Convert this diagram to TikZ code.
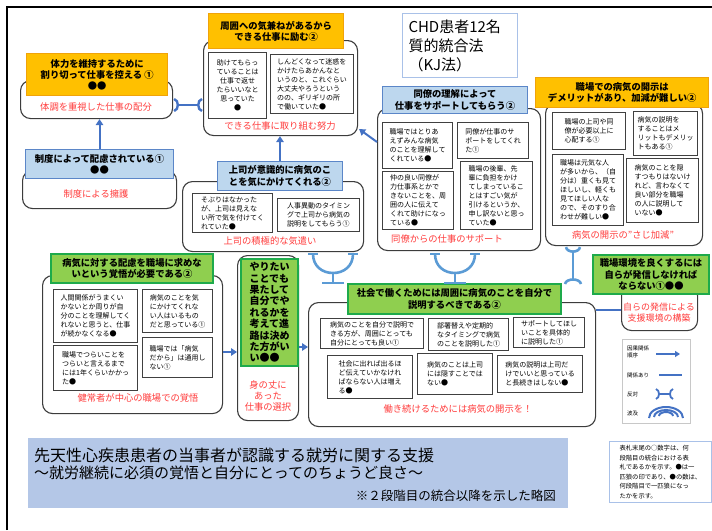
\documentclass[tikz,border=0pt]{standalone}
\usepackage{fontspec}
\setmainfont{Noto Sans CJK JP}
\usetikzlibrary{arrows.meta,calc}

\definecolor{orgF}{HTML}{FFC000}
\definecolor{orgB}{HTML}{F0A30A}
\definecolor{bluF}{HTML}{BDD7EE}
\definecolor{bluB}{HTML}{5B86C8}
\definecolor{grnF}{HTML}{8FCF4F}
\definecolor{grnB}{HTML}{1EAA4B}
\definecolor{grpc}{HTML}{3C3C3C}
\definecolor{cardc}{HTML}{404040}
\definecolor{redc}{HTML}{FF3C3C}
\definecolor{arrc}{HTML}{4472C4}
\definecolor{oppc}{HTML}{5B9BD5}
\definecolor{banF}{HTML}{B4C7E7}
\definecolor{ttlB}{HTML}{A9C1E8}
\definecolor{legB}{HTML}{C8C8C8}

\newcommand\hfnt{\fontsize{9.3}{11.3}\selectfont\bfseries}
\newcommand\cfnt{\fontsize{7}{9}\selectfont}
\newcommand\rfnt{\fontsize{9.3}{11}\selectfont}
\newcommand\mkbox[7]{\node[#1,anchor=north west,minimum width=#5pt,minimum height=#6pt] (#2) at (#3,#4) {#7};}

\tikzset{
  grp/.style={draw=grpc, line width=1.1pt, rounded corners=10pt, fill=white, inner sep=0pt},
  hdrO/.style={draw=orgB, fill=orgF, line width=1.4pt, font=\hfnt, align=center, inner sep=1pt},
  hdrB/.style={draw=bluB, fill=bluF, line width=1pt, font=\hfnt, align=center, inner sep=1pt},
  hdrG/.style={draw=grnB, fill=grnF, line width=2pt, font=\hfnt, align=center, inner sep=1pt},
  card/.style={draw=cardc, line width=1.2pt, fill=white, font=\cfnt, align=left, inner xsep=2pt, inner ysep=1pt},
  redt/.style={text=redc, font=\rfnt, inner sep=0pt},
  arr/.style={draw=arrc, line width=2pt, -{Triangle[length=6pt,width=7.5pt]}},
  rel/.style={draw=arrc, line width=2.2pt},
  oppa/.style={draw=arrc, line width=2.4pt},
  oppb/.style={draw=oppc, line width=2.6pt},
  lgt/.style={font=\fontsize{5.5}{7.5}\selectfont, inner sep=0pt, align=left},
}

\begin{document}
\begin{tikzpicture}[x=1pt,y=-1pt]
\useasboundingbox (0,0) rectangle (712,530);
\draw[line width=2pt] (7,530) -- (7,7) -- (712,7);

% title
\node[draw=ttlB, line width=1pt, fill=white, anchor=north west, minimum width=115pt, minimum height=64pt,
      text width=103pt, inner xsep=6pt, align=left, font=\fontsize{15}{19}\selectfont] (ttl) at (402,13)
      {CHD患者12名\\質的統合法\\（KJ法）};

% groups
\mkbox{grp}{g1}{20}{80}{152}{38}{}
\mkbox{grp}{g2}{203}{40}{154}{95}{}
\mkbox{grp}{g4}{22}{170}{154}{38}{}
\mkbox{grp}{g5}{182}{181}{181}{70}{}
\mkbox{grp}{g6}{377}{108}{163}{142}{}
\mkbox{grp}{g7}{545}{103}{157}{142}{}
\mkbox{grp}{g8}{42}{275}{180}{138}{}
\mkbox{grp}{g9}{237}{255}{61}{165}{}
\mkbox{grp}{g10}{308}{302}{287}{124}{}
\mkbox{grp}{g11}{621}{285}{76}{45}{}

% headers
\mkbox{hdrO}{h1}{26}{53}{141}{42}{体力を維持するために\\割り切って仕事を控える ①\\●●}
\mkbox{hdrO}{h2}{208}{13}{135}{35}{周囲への気兼ねがあるから\\できる仕事に励む②}
\mkbox{hdrB}{h4}{25}{149}{148}{29}{制度によって配慮されている①\\●●}
\mkbox{hdrB}{h5}{217}{161}{125}{29}{上司が意識的に病気のこ\\とを気にかけてくれる②}
\mkbox{hdrB}{h6}{382}{86}{145}{27}{同僚の理解によって\\仕事をサポートしてもらう②}
\mkbox{hdrO}{h7}{535}{77}{173}{30}{職場での病気の開示は\\デメリットがあり、加減が難しい②}
\mkbox{hdrG}{h8}{50}{253}{162}{29}{病気に対する配慮を職場に求めな\\いという覚悟が必要である②}
\mkbox{hdrG,font=\fontsize{10}{11.4}\selectfont\bfseries,align=left}{h9}{240}{258}{57}{107}{やりたい\\ことでも\\果たして\\自分でや\\れるかを\\考えて進\\路は決め\\た方がい\\い●●}
\mkbox{hdrG}{h10}{347}{283}{213}{30}{社会で働くためには周囲に病気のことを自分で\\説明するべきである②}
\mkbox{hdrG}{h11}{592}{254}{116}{39}{職場環境を良くするには\\自らが発信しなければ\\ならない①●●}

% cards
\mkbox{card,align=center}{cA}{208}{52}{58}{66}{助けてもらっ\\ていることは\\仕事で返せ\\たらいいなと\\思っていた\\●}
\mkbox{card}{cB}{270}{54}{83}{59}{しんどくなって迷惑を\\かけたらあかんなと\\いうのと、これぐらい\\大丈夫やろうという\\のの、ギリギリの所\\で働いていた●}
\mkbox{card}{cC}{192}{193}{80}{39}{そぶりはなかった\\が、上司は見えな\\い所で気を付けてく\\れていた●}
\mkbox{card}{cD}{277}{198}{82}{33}{人事異動のタイミン\\グで上司から病気の\\説明をしてもらう①}
\mkbox{card}{cE}{382}{122}{70}{46}{職場ではとりあ\\えずみんな病気\\のことを理解して\\くれている●}
\mkbox{card}{cF}{457}{122}{71}{36}{同僚が仕事のサ\\ポートをしてくれ\\た①}
\mkbox{card}{cG}{382}{171}{71}{58}{仲の良い同僚が\\力仕事系とかで\\きないことを、周\\囲の人に伝えて\\くれて助けになっ\\ている●}
\mkbox{card}{cH}{460}{161}{72}{68}{職場の後輩、先\\輩に負担をかけ\\てしまっているこ\\とはすごい気が\\引けるというか、\\申し訳ないと思っ\\ていた●}
\mkbox{card}{cI}{552}{112}{73}{37}{職場の上司や同\\僚が必要以上に\\心配する①}
\mkbox{card}{cJ}{633}{111}{64}{44}{病気の説明を\\することはメ\\リットもデメリッ\\トもある①}
\mkbox{card}{cK}{552}{154}{71}{71}{職場は元気な人\\が多いから、（自\\分は）重くも見て\\ほしいし、軽くも\\見てほしい人な\\ので、そのすり合\\わせが難しい●}
\mkbox{card}{cL}{626}{158}{72}{64}{病気のことを隠\\すつもりはないけ\\れど、言わなくて\\良い部分を職場\\の人に説明して\\いない●}
\mkbox{card}{cM}{53}{289}{84}{53}{人間関係がうまくい\\かないとか周りが自\\分のことを理解してく\\れないと思うと、仕事\\が続かなくなる●}
\mkbox{card}{cN}{142}{289}{70}{43}{病気のことを気\\にかけてくれな\\い人はいるもの\\だと思っている①}
\mkbox{card}{cO}{53}{345}{84}{45}{職場でつらいことを\\つらいと言えるまで\\には1年くらいかかっ\\た●}
\mkbox{card}{cP}{142}{337}{70}{40}{職場では「病気\\だから」は通用し\\ない①}
\mkbox{card}{cQ}{320}{318}{103}{30}{病気のことを自分で説明で\\きる方が、周囲にとっても\\自分にとっても良い①}
\mkbox{card}{cR}{428}{318}{80}{32}{部署替えや定期的\\なタイミングで病気\\のことを説明した①}
\mkbox{card}{cS}{513}{317}{71}{30}{サポートしてほし\\いことを具体的\\に説明した①}
\mkbox{card}{cT}{327}{355}{85}{43}{社会に出れば出るほ\\ど伝えていかなけれ\\ばならない人は増え\\る●}
\mkbox{card}{cU}{417}{353}{75}{41}{病気のことは上司\\には隠すことでは\\ない●}
\mkbox{card}{cV}{497}{355}{85}{37}{病気の説明は上司だ\\けでいいと思っている\\と長続きはしない●}

% red labels
\node[redt] (r1) at (96,107) {体調を重視した仕事の配分};
\node[redt] (r2) at (280,126) {できる仕事に取り組む努力};
\node[redt] (r4) at (96,194) {制度による擁護};
\node[redt] (r5) at (270,241) {上司の積極的な気遣い};
\node[redt] (r6) at (447,239) {同僚からの仕事のサポート};
\node[redt] (r7) at (623,235) {病気の開示の"さじ加減"};
\node[redt] (r8) at (138,398) {健常者が中心の職場での覚悟};
\node[redt,align=center] (r9) at (268,396) {身の丈に\\あった\\仕事の選択};
\node[redt] (r10) at (458,409) {働き続けるためには病気の開示を！};
\node[redt,align=center,font=\fontsize{9}{11}\selectfont] (r11) at (659,313) {自らの発信による\\支援環境の構築};

% arrows
\draw[arr] (h4.north) -- (h4.north |- g1.south);
\draw[arr] (h5.north) -- (h5.north |- g2.south);
\coordinate (a3s) at (g6.west |- 0,142);
\draw[arr] (a3s) -- ($(g2.south east)+(1,-7)$);
\draw[arr] (g8.east |- 0,352) -- (g9.west |- 0,352);
\draw[arr] (g9.east |- 0,347) -- (g10.west |- 0,347);
\draw[rel] (g10.east |- 0,310) -- (g11.west |- 0,310);

% opposition g1 - g2
\coordinate (o1a) at (g1.east |- 0,105);
\coordinate (o1b) at (g2.west |- 0,105);
\draw[oppa] ($(o1a)+(1,-6)$) .. controls +(5,1) and +(5,-1) .. ($(o1a)+(1,6)$);
\draw[oppa] ($(o1a)+(5,0)$) -- ($(o1b)+(-5,0)$);
\draw[oppa] ($(o1b)+(-1,-6)$) .. controls +(-5,1) and +(-5,-1) .. ($(o1b)+(-1,6)$);

% opposition g7 - below
\coordinate (o3a) at (g7.south -| 573,0);
\coordinate (o3b) at (573,284);
\draw[oppb] ($(o3a)+(-7,1)$) .. controls +(1,6) and +(-1,6) .. ($(o3a)+(7,1)$);
\draw[oppb] ($(o3a)+(0,5)$) -- ($(o3b)+(0,-5)$);
\draw[oppb] ($(o3b)+(-8,0)$) .. controls +(1,-6) and +(-1,-6) .. ($(o3b)+(8,0)$);

% U-shaped oppositions under g5 and g6
\coordinate (u1l) at (313,254); \coordinate (u1r) at (353,254); \coordinate (u1m) at (333,273); \coordinate (u1b) at (333,283);
\draw[oppb] ($(u1l)+(-5,0)$) -- ($(u1l)+(5,0)$);
\draw[oppb] ($(u1r)+(-5,0)$) -- ($(u1r)+(5,0)$);
\draw[oppb] (u1l) .. controls +(0,12) and +(-11,0) .. (u1m) .. controls +(11,0) and +(0,12) .. (u1r);
\draw[oppb] (u1m) -- (u1b);
\draw[oppb] ($(u1b)+(-11,0)$) -- ($(u1b)+(11,0)$);

\coordinate (u2l) at (435,254); \coordinate (u2r) at (475,254); \coordinate (u2m) at (455,273); \coordinate (u2b) at (455,283);
\draw[oppb] ($(u2l)+(-5,0)$) -- ($(u2l)+(5,0)$);
\draw[oppb] ($(u2r)+(-5,0)$) -- ($(u2r)+(5,0)$);
\draw[oppb] (u2l) .. controls +(0,12) and +(-11,0) .. (u2m) .. controls +(11,0) and +(0,12) .. (u2r);
\draw[oppb] (u2m) -- (u2b);
\draw[oppb] ($(u2b)+(-11,0)$) -- ($(u2b)+(11,0)$);

% legend
\node[draw=legB, line width=1pt, fill=white, anchor=north west, minimum width=68pt, minimum height=84pt] (leg) at (622,339) {};
\node[lgt, anchor=west] (l1) at (627,352) {因果関係\\順序};
\node[lgt, anchor=west] (l2) at (627,375) {関係あり};
\node[lgt, anchor=west] (l3) at (627,394) {反対};
\node[lgt, anchor=west] (l4) at (627,413) {波及};
\coordinate (la1) at (656,354); \coordinate (la2) at (680,354);
\draw[arr, line width=1.8pt, -{Triangle[length=5pt,width=6pt]}] (la1) -- (la2);
\coordinate (lb1) at (659,375); \coordinate (lb2) at (682,375);
\draw[rel, line width=1.8pt] (lb1) -- (lb2);
\coordinate (lc1) at (656,394); \coordinate (lc2) at (673,394);
\draw[oppa, line width=1.8pt] ($(lc1)+(0,-5)$) .. controls +(4,1) and +(4,-1) .. ($(lc1)+(0,5)$);
\draw[oppa, line width=1.8pt] ($(lc1)+(3,0)$) -- ($(lc2)+(-3,0)$);
\draw[oppa, line width=1.8pt] ($(lc2)+(0,-5)$) .. controls +(-4,1) and +(-4,-1) .. ($(lc2)+(0,5)$);
\coordinate (ld) at (666,418);
\draw[arrc, line width=2pt] ($(ld)+(-17,0)$) arc[start angle=180, end angle=0, x radius=17, y radius=-11];
\draw[arrc, line width=2pt] ($(ld)+(-12,-1)$) arc[start angle=180, end angle=0, x radius=12, y radius=-7];
\draw[arrc, line width=2pt] ($(ld)+(-7,-2)$) arc[start angle=180, end angle=0, x radius=7, y radius=-4];

% banner
\node[fill=banF, anchor=north west, minimum width=540pt, minimum height=70pt] (ban) at (28,438) {};
\node[anchor=west, inner sep=0pt, font=\fontsize{16}{19}\selectfont] (bt1) at (34,455) {先天性心疾患患者の当事者が認識する就労に関する支援};
\node[anchor=west, inner sep=0pt, font=\fontsize{15}{19}\selectfont] (bt2) at (34,473) {～就労継続に必須の覚悟と自分にとってのちょうど良さ～};
\node[anchor=east, inner sep=0pt, font=\fontsize{12.5}{15}\selectfont] (bt3) at (556,496) {※２段階目の統合以降を示した略図};

% note
\node[draw=ttlB, line width=0.8pt, fill=white, anchor=north west, minimum width=102pt, minimum height=61pt,
      align=left, inner sep=2pt, font=\fontsize{6.3}{9.5}\selectfont] (note) at (609,441)
      {表札末尾の○数字は、何\\段階目の統合における表\\札であるかを示す。●は一\\匹狼の印であり、●の数は、\\何段階目で一匹狼になっ\\たかを示す。};
\end{tikzpicture}
\end{document}
